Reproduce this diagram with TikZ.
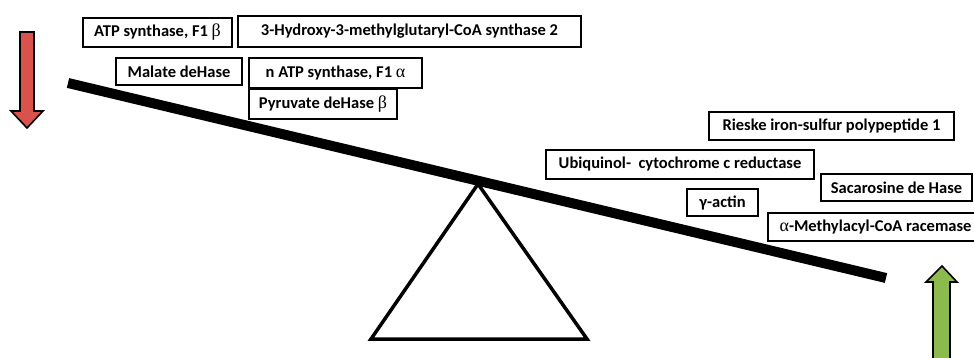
\documentclass[tikz,border=0pt]{standalone}
\usepackage{fontspec}
\setmainfont{Carlito}
\newfontfamily\grk{Liberation Serif}
\newcommand{\gk}[1]{{\grk\mdseries\fontsize{18}{18}\selectfont #1}}
\definecolor{arrred}{RGB}{217,82,76}
\definecolor{arrgreen}{RGB}{140,186,76}
\tikzset{
  lbl/.style={draw=black, line width=2.2pt, fill=white, inner sep=0pt, font=\fontsize{16.5}{18}\selectfont\bfseries, anchor=center},
  beam/.style={line width=10pt, line cap=butt},
  arrowshape/.style={draw=black, line width=1.6pt, line join=miter}
}
\newcommand{\bx}[6]{% name, x1,y1,x2,y2,text
  \node[lbl, minimum width={(#4-#2)*1pt-2pt}, minimum height={(#5-#3)*1pt-2pt}] (#1) at ({(#2+#4)/2},{(#3+#5)/2}) {#6};}
\begin{document}
\begin{tikzpicture}[x=1pt,y=-1pt]
\useasboundingbox (0,0) rectangle (974,358);
\clip (0,0) rectangle (974,358);
% red arrow
\draw[arrowshape, fill=arrred] (20,32) -- (34,32) -- (34,111) -- (43,111) -- (27,128) -- (11,111) -- (20,111) -- cycle;
% green arrow
\draw[arrowshape, fill=arrgreen] (933,365) -- (933,282) -- (926,282) -- (942,266) -- (957,282) -- (950,282) -- (950,365) -- cycle;
% fulcrum
\coordinate (apex) at (478,184);
\coordinate (bl) at (371,339);
\coordinate (br) at (587,339);
\draw[line width=3.5pt, line join=miter] (apex) -- (bl) -- (br) -- cycle;
% beam
\coordinate (bmL) at (68,83);
\coordinate (bmR) at (886,278);
\draw[beam] (bmL) -- (bmR);
% boxes
\bx{b1}{82}{17}{233}{48}{ATP synthase, F1 \gk{β}}
\bx{b2}{237}{15}{582}{48}{3-Hydroxy-3-methylglutaryl-CoA synthase 2}
\bx{b3}{115}{57}{243}{86}{Malate deHase}
\bx{b4}{248}{57}{423}{89}{n ATP synthase, F1 \gk{α}\hspace{20pt}}
\bx{b5}{248}{88}{398}{120}{Pyruvate deHase \gk{β}}
\bx{b6}{708}{111}{955}{141}{Rieske iron-sulfur polypeptide 1}
\bx{b7}{545}{149}{815}{180}{Ubiquinol- \ cytochrome c reductase}
\bx{b8}{820}{173}{973}{202}{Sacarosine de Hase}
\bx{b9}{686}{188}{759}{217}{γ-actin}
\bx{b10}{767}{212}{984}{242}{\gk{α}-Methylacyl-CoA racemase\hspace{10pt}}
\end{tikzpicture}
\end{document}
